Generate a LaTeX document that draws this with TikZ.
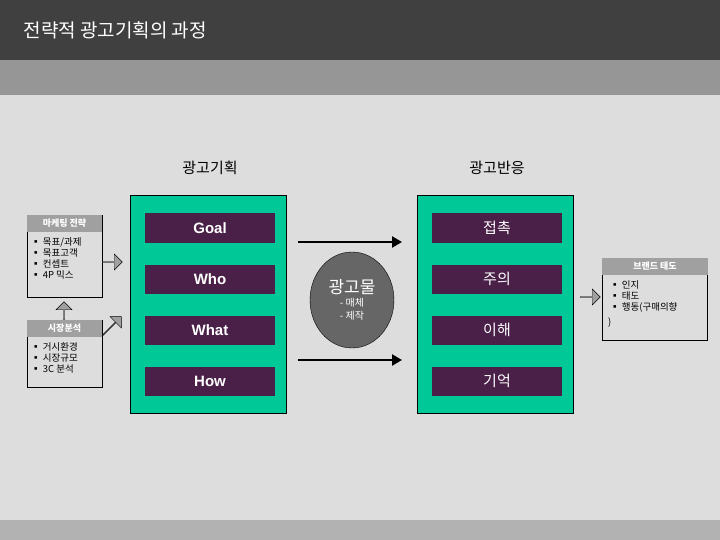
\documentclass[tikz,border=0pt]{standalone}
\usepackage{fontspec}
\newfontfamily\kr{Noto Sans CJK KR}
\setmainfont{Liberation Sans}
\usetikzlibrary{shapes.arrows}
\definecolor{grn}{HTML}{00C896}
\definecolor{pur}{HTML}{4A2048}
\definecolor{bg}{HTML}{DDDDDD}
\definecolor{hdr}{HTML}{A0A0A0}
\tikzset{
 pbox/.style={fill=pur,text=white,minimum width=130pt,minimum height=29pt,inner sep=0pt,font=\fontsize{15}{15}\selectfont\bfseries},
 kbox/.style={pbox,font=\kr\fontsize{15}{15}\selectfont},
 panel/.style={fill=grn,draw=black,line width=0.8pt},
 hd/.style={fill=hdr,text=white,inner sep=0pt,font=\kr\fontsize{9}{9}\selectfont\bfseries},
 body/.style={fill=bg,draw=black,line width=0.6pt},
 lst/.style={anchor=north west,align=left,inner sep=0pt,font=\kr\fontsize{9.5}{11}\selectfont},
 blk/.style={single arrow,draw=black,fill=hdr,minimum height=20pt,minimum width=16pt,single arrow head extend=3pt,inner sep=0pt},
 bigar/.style={line width=2.5pt,-{Triangle[length=10pt,width=11pt]}},
}
\usetikzlibrary{arrows.meta}
\begin{document}
\begin{tikzpicture}[x=1pt,y=-1pt]
\useasboundingbox (0,0) rectangle (720,540);
\fill[bg] (0,0) rectangle (720,540);
\fill[black!75] (0,0) rectangle (720,60);
\fill[black!41] (0,60) rectangle (720,95);
\fill[black!30] (0,520) rectangle (720,540);
\node[anchor=west,text=white,font=\kr\fontsize{19}{19}\selectfont] (title) at (20,30) {전략적 광고기획의 과정};
\node[font=\kr\fontsize{15}{15}\selectfont] (h1) at (210,168) {광고기획};
\node[font=\kr\fontsize{15}{15}\selectfont] (h2) at (497,168) {광고반응};
\draw[panel] (130,195) rectangle (286,413);
\draw[panel] (417,195) rectangle (573,413);
\node[pbox] (goal) at (210,228) {Goal};
\node[pbox] (who) at (210,279) {Who};
\node[pbox] (what) at (210,330) {What};
\node[pbox] (how) at (210,381) {How};
\node[kbox] (c1) at (497,228) {접촉};
\node[kbox] (c2) at (497,279) {주의};
\node[kbox] (c3) at (497,330) {이해};
\node[kbox] (c4) at (497,381) {기억};
\coordinate (a1s) at (298,242); \coordinate (a1e) at (402,242);
\coordinate (a2s) at (298,360); \coordinate (a2e) at (402,360);
\draw[bigar] (a1s) -- (a1e);
\draw[bigar] (a2s) -- (a2e);
\draw[fill=black!60,draw=black] (352,300) ellipse (42 and 48);
\node[text=white,align=center,font=\kr\fontsize{10}{13}\selectfont] (ad) at (352,300) {{\fontsize{17}{20}\selectfont 광고물}\\- 매체\\- 제작};
% left boxes
\draw[body] (27,215) rectangle (102,297);
\fill[hdr] (27,215) rectangle (102,232);
\node[hd] (mk) at (64.5,223.5) {마케팅 전략};
\node[lst] (mkl) at (31,237) {▪ 목표/과제\\▪ 목표고객\\▪ 컨셉트\\▪ 4P 믹스};
\draw[body] (27,320) rectangle (102,387);
\fill[hdr] (27,320) rectangle (102,337);
\node[hd] (sj) at (64.5,328.5) {시장분석};
\node[lst] (sjl) at (31,342) {▪ 거시환경\\▪ 시장규모\\▪ 3C 분석};
\node[blk] (ar1) at (112,262) {};
\node[blk,rotate=90,minimum height=18pt] (ar2) at (64,311) {};
\node[blk,rotate=45,minimum height=26pt] (ar3) at (112,326) {};
% right box
\draw[body] (602,258) rectangle (707,340);
\fill[hdr] (602,258) rectangle (708,275);
\node[hd] (bt) at (655,266.5) {브랜드 태도};
\node[lst] (btl) at (610,280) {▪ 인지\\▪ 태도\\▪ 행동(구매의향};
\node[lst] (btr) at (608,318) {)};
\node[blk] (ar4) at (590,297) {};
\end{tikzpicture}
\end{document}
